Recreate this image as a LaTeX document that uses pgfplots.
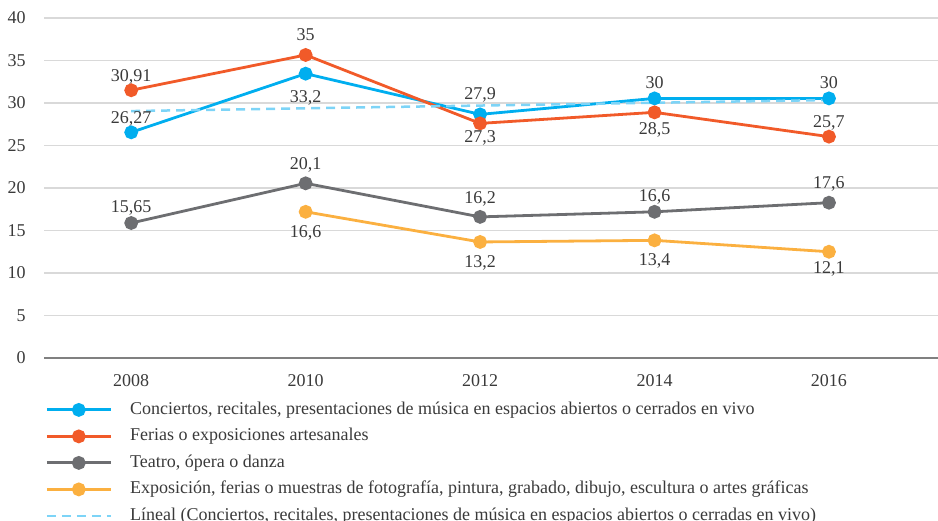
\documentclass[border=0pt]{standalone}
\usepackage{fontspec}
\setmainfont{Liberation Serif}
\usepackage{pgfplots}
\pgfplotsset{compat=1.18}

\definecolor{cblue}{HTML}{00AEEF}
\definecolor{corange}{HTML}{F15A29}
\definecolor{cgray}{HTML}{6D6E71}
\definecolor{cyellow}{HTML}{FBB040}
\definecolor{ctrend}{HTML}{7DD4F7}
\definecolor{cgrid}{HTML}{D9D9D9}
\definecolor{ctext}{HTML}{3A3A3A}

\newcommand{\chartfont}{\fontsize{18}{21}\selectfont}
\newcommand{\labdy}{0}
\pgfplotsset{
  series/.style={#1, mark=*, mark options={solid, fill=#1},
    nodes near coords, point meta=explicit symbolic,
    visualization depends on={value \thisrow{dy} \as \labdy}},
}

\begin{document}
\begin{tikzpicture}[x=1pt,y=1pt]
\path[use as bounding box] (0,0) rectangle (938,521);
\begin{axis}[
  at={(44pt,163pt)}, anchor=south west,
  scale only axis, width=894pt, height=340pt,
  xmin=2007, xmax=2017.25, ymin=0, ymax=40,
  xtick={2008,2010,...,2016}, ytick={5,10,...,40},
  extra y ticks={0},
  extra y tick style={grid style={draw=black!50, line width=2pt}},
  ymajorgrids, grid style={draw=cgrid, line width=1.3pt},
  axis line style={draw=none}, tick style={draw=none},
  /pgf/number format/1000 sep={},
  /pgf/number format/assume math mode=true,
  tick label style={font=\chartfont, text=ctext, inner sep=0pt},
  yticklabel style={xshift=-17pt},
  xticklabel style={yshift=-15pt},
  clip=false,
  line width=2.8pt,
  mark size=5.5pt,
  nodes near coords style={font=\chartfont, text=ctext, anchor=center,
    inner sep=0pt, text depth=0pt, yshift=\labdy pt},
  legend image code/.code={
    \draw[mark repeat=2,mark phase=2,#1] plot coordinates {(0pt,0pt) (32pt,0pt) (64pt,0pt)};},
  legend cell align=left,
  legend style={at={(rel axis cs:0,0)}, anchor=north west, yshift=-42pt,
    draw=none, fill=none, inner sep=0pt, row sep=9.5pt,
    font=\chartfont, text=ctext,
    /tikz/every odd column/.append style={column sep=16pt},
    nodes={inner ysep=0pt, text height=13pt, text depth=4pt}},
]
\addplot[series=cblue]
  table[x=x, y=y, meta=lab, row sep=\\] {
  x y lab dy \\
  2008 26.55 26,27 15 \\
  2010 33.45 33,2 -23 \\
  2012 28.66 27,9 21 \\
  2014 30.54 30 16 \\
  2016 30.54 30 16 \\
};
\addlegendentry{Conciertos, recitales, presentaciones de música en espacios abiertos o cerrados en vivo}

\addplot[series=corange]
  table[x=x, y=y, meta=lab, row sep=\\] {
  x y lab dy \\
  2008 31.5 30,91 15 \\
  2010 35.65 35 20 \\
  2012 27.6 27,3 -13 \\
  2014 28.9 28,5 -16 \\
  2016 26.04 25,7 15 \\
};
\addlegendentry{Ferias o exposiciones artesanales}

\addplot[series=cgray]
  table[x=x, y=y, meta=lab, row sep=\\] {
  x y lab dy \\
  2008 15.88 15,65 16 \\
  2010 20.55 20,1 20 \\
  2012 16.6 16,2 19 \\
  2014 17.2 16,6 16 \\
  2016 18.27 17,6 20 \\
};
\addlegendentry{Teatro, ópera o danza}

\addplot[series=cyellow]
  table[x=x, y=y, meta=lab, row sep=\\] {
  x y lab dy \\
  2010 17.2 16,6 -20 \\
  2012 13.65 13,2 -20 \\
  2014 13.84 13,4 -19 \\
  2016 12.5 12,1 -16 \\
};
\addlegendentry{Exposición, ferias o muestras de fotografía, pintura, grabado, dibujo, escultura o artes gráficas}

\addplot[ctrend, no marks, line width=2.5pt, dash pattern=on 9pt off 6pt]
  coordinates {(2008,29.05) (2016,30.35)};
\addlegendentry{Líneal (Conciertos, recitales, presentaciones de música en espacios abiertos o cerradas en vivo)}
\end{axis}
\end{tikzpicture}
\end{document}
